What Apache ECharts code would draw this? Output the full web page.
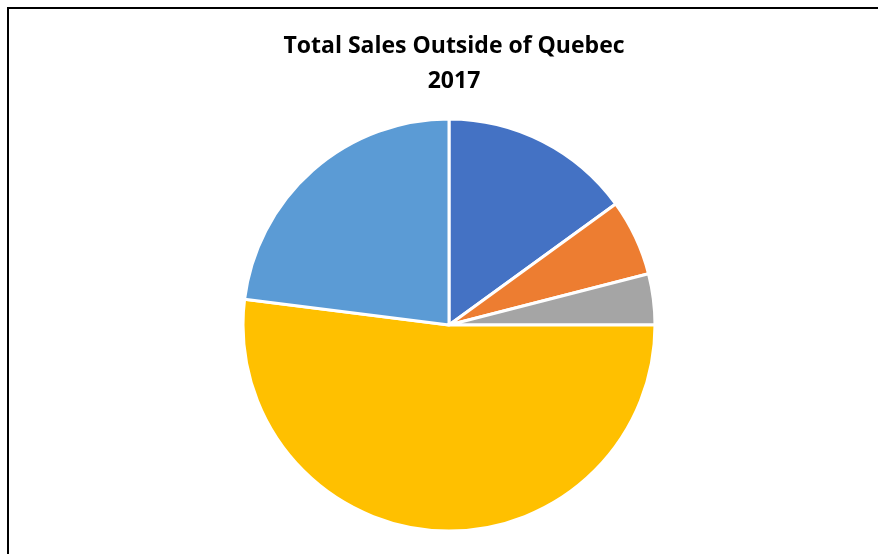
<!DOCTYPE html>
<html>
<head>
<meta charset="utf-8">
<script src="https://cdn.jsdelivr.net/npm/echarts@6/dist/echarts.min.js"></script>
<style>
  html, body { margin: 0; padding: 0; background: #fff; }
  #chart { width: 878px; height: 554px; }
</style>
</head>
<body>
<div id="chart"></div>
<script>
// slice data, clockwise from 12 o'clock
const regions = ['Region A', 'Region B', 'Region C', 'Region D', 'Region E'];
const sales = [15, 6, 4, 52, 23];
const colors = ['#4472C4', '#ED7D31', '#A5A5A5', '#FFC000', '#5B9BD5'];

const chart = echarts.init(document.getElementById('chart'));

const option = {
  animation: false,
  backgroundColor: '#fff',
  title: {
    text: 'Total Sales Outside of Quebec\n2017',
    left: 449,
    top: 24,
    textAlign: 'center',
    textStyle: {
      fontFamily: 'Open Sans',
      fontWeight: 'bold',
      fontSize: 23,
      lineHeight: 35,
      color: '#000'
    }
  },
  graphic: [{
    type: 'rect',
    shape: { x: 8, y: 8, width: 900, height: 600 },
    style: { fill: 'none', stroke: '#000', lineWidth: 2 },
    silent: true
  }],
  series: [{
    type: 'pie',
    center: [449, 325],
    radius: 206,
    startAngle: 90,
    clockwise: true,
    label: { show: false },
    labelLine: { show: false },
    itemStyle: { borderColor: '#fff', borderWidth: 3 },
    data: regions.map((name, i) => ({
      name: name,
      value: sales[i],
      itemStyle: { color: colors[i] }
    }))
  }]
};

chart.setOption(option);
</script>
</body>
</html>
